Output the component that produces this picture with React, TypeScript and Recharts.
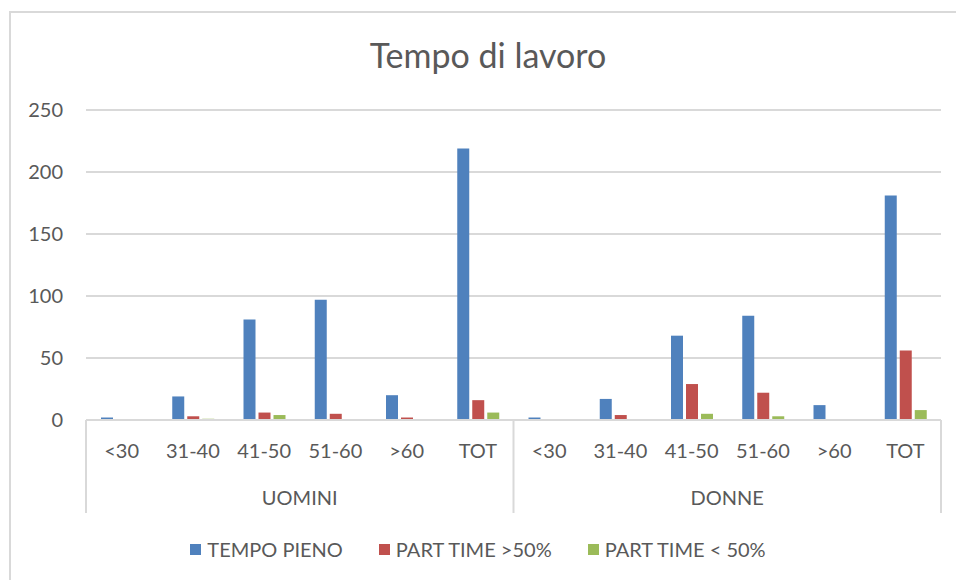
import React from "react";
import { BarChart, Bar, XAxis, YAxis, CartesianGrid } from "recharts";

// Age bands (repeated for each group) and group labels
const ageBands = ["<30", "31-40", "41-50", "51-60", ">60", "TOT"];
const groups = ["UOMINI", "DONNE"];

// Values, UOMINI first then DONNE
const tempoPieno = [2, 19, 81, 97, 20, 219, 2, 17, 68, 84, 12, 181];
const partTimeOver50 = [0, 3, 6, 5, 2, 16, 0, 4, 29, 22, 0, 56];
const partTimeUnder50 = [0, 1, 4, 0, 0, 6, 0, 0, 5, 3, 0, 8];

const yTicks = [0, 50, 100, 150, 200, 250];

const series = [
  { key: "tempoPieno", name: "TEMPO PIENO", color: "#4F81BD" },
  { key: "over50", name: "PART TIME >50%", color: "#C0504D" },
  { key: "under50", name: "PART TIME < 50%", color: "#9BBB59" },
];

const data = groups.flatMap((g, gi) =>
  ageBands.map((age, ai) => {
    const i = gi * ageBands.length + ai;
    return {
      id: `${g}-${age}`,
      age,
      group: g,
      tempoPieno: tempoPieno[i],
      over50: partTimeOver50[i],
      under50: partTimeUnder50[i],
    };
  })
);

const FONT = "Lato, 'Open Sans', sans-serif";
const TEXT = "#595959";
const GRID = "#d9d9d9";
const FS = 20;

const CHART_W = 956;
const CHART_H = 580;
const PLOT_LEFT = 86;
const PLOT_RIGHT = 941;
const BAND = (PLOT_RIGHT - PLOT_LEFT) / data.length;

// Two-level category tick: age label, separators and group label
const GroupedTick = (props: any) => {
  const { x, y, payload } = props;
  const idx = payload.index;
  const row = data[idx];
  const n = ageBands.length;
  const isFirst = idx % n === 0;
  const isLast = idx === data.length - 1;
  return (
    <g>
      <text
        x={x}
        y={y + 38}
        textAnchor="middle"
        fill={TEXT}
        fontSize={FS}
        fontFamily={FONT}
      >
        {row.age}
      </text>
      {isFirst && (
        <line x1={x - BAND / 2} x2={x - BAND / 2} y1={y} y2={y + 93} stroke={GRID} strokeWidth={2} />
      )}
      {isLast && (
        <line x1={x + BAND / 2} x2={x + BAND / 2} y1={y} y2={y + 93} stroke={GRID} strokeWidth={2} />
      )}
      {isFirst && (
        <text
          x={x + BAND * (n / 2 - 0.5)}
          y={y + 85}
          textAnchor="middle"
          fill={TEXT}
          fontSize={FS}
          fontFamily={FONT}
        >
          {row.group}
        </text>
      )}
    </g>
  );
};

export default function App() {
  return (
    <div
      style={{
        position: "fixed",
        left: 0,
        top: 0,
        width: CHART_W,
        height: CHART_H,
        overflow: "hidden",
        background: "#fff",
      }}
    >
      <div
        style={{
          position: "absolute",
          left: 9,
          top: 11,
          width: CHART_W + 20,
          height: CHART_H + 20,
          border: `2px solid ${GRID}`,
          boxSizing: "border-box",
        }}
      />
      <div
        style={{
          position: "absolute",
          left: 0,
          top: 35,
          width: CHART_W + 20,
          textAlign: "center",
          fontFamily: FONT,
          fontSize: 34,
          lineHeight: "40px",
          color: TEXT,
        }}
      >
        Tempo di lavoro
      </div>
      <BarChart
        width={CHART_W}
        height={CHART_H}
        data={data}
        margin={{ top: 110, right: CHART_W - PLOT_RIGHT, bottom: 67, left: 0 }}
        barSize={12}
        barGap={3}
        style={{ position: "absolute", left: 0, top: 0 }}
      >
        <CartesianGrid vertical={false} stroke={GRID} strokeWidth={2} />
        <XAxis
          dataKey="id"
          interval={0}
          tickSize={0}
          tickMargin={0}
          height={93}
          axisLine={{ stroke: GRID, strokeWidth: 2 }}
          tick={<GroupedTick />}
        />
        <YAxis
          width={PLOT_LEFT}
          domain={[0, 250]}
          ticks={yTicks}
          tickSize={0}
          tickMargin={23}
          axisLine={false}
          tickLine={false}
          tick={{ fill: TEXT, fontSize: FS, fontFamily: FONT }}
        />
        {series.map((s) => (
          <Bar
            key={s.key}
            dataKey={s.key}
            name={s.name}
            fill={s.color}
            isAnimationActive={false}
          />
        ))}
      </BarChart>
      <div
        style={{
          position: "absolute",
          left: 0,
          top: 537,
          width: CHART_W,
          display: "flex",
          justifyContent: "center",
          alignItems: "center",
          gap: 36,
          fontFamily: FONT,
          fontSize: FS,
          lineHeight: "24px",
          color: TEXT,
        }}
      >
        {series.map((s) => (
          <div key={s.key} style={{ display: "flex", alignItems: "center" }}>
            <span
              style={{
                display: "inline-block",
                width: 11,
                height: 11,
                background: s.color,
                marginRight: 6,
              }}
            />
            <span>{s.name}</span>
          </div>
        ))}
      </div>
    </div>
  );
}
